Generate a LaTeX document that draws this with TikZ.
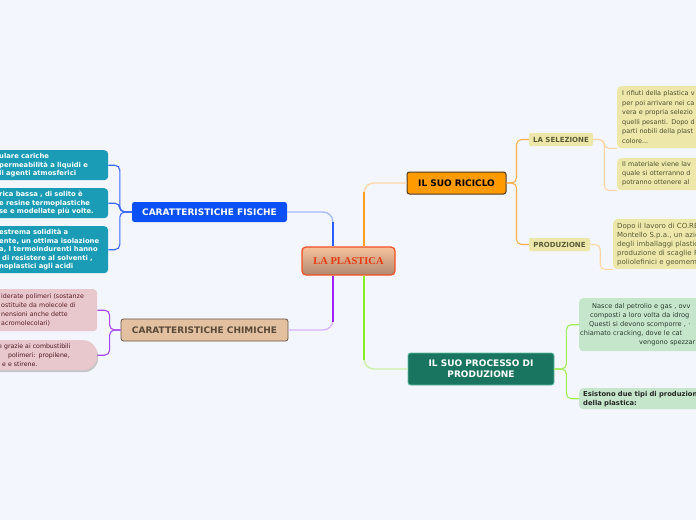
\documentclass[tikz,border=0pt]{standalone}
\usepackage{fontspec}
\setmainfont{DejaVu Sans}
\newfontfamily\rootfont{Liberation Serif}
\usetikzlibrary{shadows}
\newcommand{\myfs}[2]{\fontsize{#1}{#2}\selectfont}
\definecolor{bg}{HTML}{F3F6FD}
\definecolor{fisblue}{HTML}{0A50F5}
\definecolor{leafteal}{HTML}{1A9CB6}
\definecolor{chimtan}{HTML}{E2C0A0}
\definecolor{chimborder}{HTML}{6A5545}
\definecolor{chimtext}{HTML}{5A4A3A}
\definecolor{pinkleaf}{HTML}{E8C8CD}
\definecolor{pinktext}{HTML}{5A1E24}
\definecolor{ricorange}{HTML}{FF9A00}
\definecolor{ricborder}{HTML}{4A3A20}
\definecolor{khaki}{HTML}{EDE8AA}
\definecolor{khakitext}{HTML}{4E4E30}
\definecolor{labeltext}{HTML}{5A5A3A}
\definecolor{procteal}{HTML}{1A7560}
\definecolor{procborder}{HTML}{5FBFA0}
\definecolor{greenleaf}{HTML}{C6E6CC}
\definecolor{greentext}{HTML}{2B3A2E}
\definecolor{rootborder}{HTML}{F5501E}
\definecolor{roottext}{HTML}{E83A10}
\definecolor{roottop}{HTML}{F6C29C}
\definecolor{rootbot}{HTML}{B08870}
\definecolor{blueS}{HTML}{2A5CFF}
\definecolor{blueL}{HTML}{A6BDFA}
\definecolor{blueM}{HTML}{3A68FF}
\definecolor{orangeS}{HTML}{FF9E20}
\definecolor{orangeL}{HTML}{FFD6A6}
\definecolor{orangeM}{HTML}{FFB04A}
\definecolor{greenS}{HTML}{86EE22}
\definecolor{greenL}{HTML}{CBF0A6}
\definecolor{greenM}{HTML}{A2EC58}
\definecolor{purpleS}{HTML}{A020FF}
\definecolor{purpleL}{HTML}{D9B4F8}
\definecolor{purpleM}{HTML}{A845F0}
\tikzset{
  mainnode/.style={font=\bfseries\myfs{9}{11}, inner sep=0pt, rounded corners=2.5pt, align=center},
  leafnode/.style={anchor=north west, inner xsep=4pt, inner ysep=0pt, align=left, rounded corners=4pt},
  fisleaf/.style={leafnode, fill=leafteal, text=white, inner xsep=5pt, font=\bfseries\myfs{6.8}{8.6}, minimum width=114pt, text width=104pt},
  labelnode/.style={fill=khaki, text=labeltext, font=\bfseries\myfs{7}{8}, inner sep=0pt, rounded corners=2pt},
  conn/.style={line width=1.4pt, rounded corners=10pt},
  subconn/.style={line width=1.1pt, rounded corners=5pt}
}
\begin{document}
\begin{tikzpicture}[x=1pt,y=-1pt]
\useasboundingbox (0,0) rectangle (696,520);
\fill[bg] (0,0) rectangle (696,520);
\clip (0,0) rectangle (696,520);

% central
\node[rounded corners=4pt, draw=rootborder, line width=1.2pt, top color=roottop, bottom color=rootbot,
      minimum width=93pt, minimum height=28pt, inner sep=0pt, text=roottext,
      font=\rootfont\bfseries\myfs{10.5}{12}] (root) at (348.5,261) {LA PLASTICA};

% main topics
\node[mainnode, fill=fisblue, text=white, minimum width=155pt, minimum height=20pt] (fis) at (209.5,212) {CARATTERISTICHE FISICHE};
\node[mainnode, fill=chimtan, draw=chimborder, line width=0.8pt, text=chimtext, minimum width=167pt, minimum height=22pt] (chim) at (204.5,330) {CARATTERISTICHE CHIMICHE};
\node[mainnode, fill=ricorange, draw=ricborder, line width=1pt, text=black, minimum width=99pt, minimum height=22pt] (ric) at (456.5,183) {IL SUO RICICLO};
\node[mainnode, fill=procteal, draw=procborder, line width=0.8pt, text=white, minimum width=146pt, minimum height=32pt] (proc) at (481,369) {IL SUO PROCESSO DI\\PRODUZIONE};

% sub labels
\node[labelnode, minimum width=64pt, minimum height=13pt] (sel) at (561,139.5) {LA SELEZIONE};
\node[labelnode, minimum width=61pt, minimum height=13pt] (prod) at (559.5,244.5) {PRODUZIONE};

% left leaves (fisiche)
\node[fisleaf, minimum height=30pt] (fl1) at (-6,150)
  {ulare cariche\\permeabilità a liquidi e\\li agenti atmosferici};
\node[fisleaf, minimum height=30pt] (fl2) at (-6,188)
  {rica bassa , di solito è\\e resine termoplastiche\\se e modellate più volte.};
\node[fisleaf, minimum height=47pt] (fl3) at (-6,226)
  {estrema solidità a\\ente, un ottima isolazione\\a, I termoindurenti hanno\\\hspace*{3pt}di resistere al solventi ,\\noplastici agli acidi};

% left leaves (chimiche)
\node[leafnode, fill=pinkleaf, text=pinktext, inner xsep=7pt, font=\myfs{6.3}{9}, minimum width=103pt, text width=89pt, minimum height=42pt] (cl1) at (-6,289)
  {iderate polimeri (sostanze\\ostituite da molecole di\\nensioni anche dette\\acromolecolari)};
\node[leafnode, fill=pinkleaf, text=pinktext!80!black, rounded corners=14pt, font=\myfs{6.2}{9}, minimum width=127pt, text width=119pt, minimum height=30pt,
      drop shadow={shadow xshift=1pt, shadow yshift=-2pt, fill=black!35, opacity=0.6}] (cl2) at (-30,340)
  {\hspace*{24pt}e grazie ai combustibili\\\hspace*{34pt}polimeri: propilene,\\\hspace*{28pt}e e stirene.};

% right leaves (riciclo)
\node[leafnode, fill=khaki, text=khakitext, inner xsep=5pt, font=\myfs{6.5}{9.5}, minimum width=120pt, text width=110pt, minimum height=62pt] (sl1) at (617,86)
  {I rifiuti della plastica v\\per poi arrivare nei ca\\vera e propria selezio\\quelli pesanti. Dopo d\\parti nobili della plast\\colore...};
\node[leafnode, fill=khaki, text=khakitext, inner xsep=5pt, font=\myfs{6.5}{9}, minimum width=120pt, text width=110pt, minimum height=32pt] (sl2) at (617,158)
  {Il materiale viene lav\\quale si otterranno d\\potranno ottenere al};
\node[leafnode, fill=khaki, text=labeltext, font=\myfs{7}{9}, minimum width=120pt, text width=112pt, minimum height=50pt] (pl1) at (613,219)
  {Dopo il lavoro di CO.RE\\Montello S.p.a., un azie\\degli imballaggi plastic\\produzione di scaglie F\\poliolefinici e geomem};

% right leaves (processo)
\node[leafnode, fill=greenleaf, text=greentext, inner xsep=1pt, font=\myfs{6.6}{9.2}, minimum width=160pt, text width=158pt, minimum height=53pt] (gl1) at (579,298)
  {\hspace*{12pt}Nasce dal petrolio e gas , ovv\\\hspace*{10pt}composti a loro volta da idrog\\\hspace*{9pt}Questi si devono scomporre , ·\\chiamato cracking, dove le cat\\\hspace*{59pt}vengono spezzar};
\node[leafnode, fill=greenleaf, text=black!85, font=\bfseries\myfs{6.8}{9}, minimum width=160pt, text width=152pt, minimum height=21pt] (gl2) at (579,388)
  {Esistono due tipi di produzion\\della plastica:};

% main connectors
\draw[conn, blueL] ([xshift=-15.5pt]root.north) |- (fis.east);
\draw[conn, blueS] ([xshift=-15.5pt]root.north) -- ([xshift=-15.5pt,yshift=24pt]root.north);
\draw[conn, purpleL] ([xshift=-15.5pt]root.south) |- (chim.east);
\draw[conn, purpleS] ([xshift=-15.5pt]root.south) -- ([xshift=-15.5pt,yshift=-46pt]root.south);
\draw[conn, orangeL] ([xshift=15.5pt]root.north) |- (ric.west);
\draw[conn, orangeS] ([xshift=15.5pt]root.north) -- ([xshift=15.5pt,yshift=54pt]root.north);
\draw[conn, greenL] ([xshift=15.5pt]root.south) |- (proc.west);
\draw[conn, greenS] ([xshift=15.5pt]root.south) -- ([xshift=15.5pt,yshift=-84pt]root.south);

% sub connectors
\draw[subconn, blueM] (fis.west) -- ++(-12,0) |- (fl1.east);
\draw[subconn, blueM] (fis.west) -- ++(-12,0) |- (fl2.east);
\draw[subconn, blueM] (fis.west) -- ++(-12,0) |- (fl3.east);
\draw[subconn, purpleM] (chim.west) -- ++(-11,0) |- (cl1.east);
\draw[subconn, purpleM] (chim.west) -- ++(-11,0) |- (cl2.east);
\draw[subconn, orangeM] (ric.east) -- ++(10,0) |- (sel.west);
\draw[subconn, orangeM] (ric.east) -- ++(10,0) |- (prod.west);
\draw[subconn, orangeL] (sel.east) -- ++(11,0) |- (sl1.south west);
\draw[subconn, orangeL] (sel.east) -- ++(11,0) |- (sl2.south west);
\draw[subconn, orangeL] (prod.east) -- ++(10,0) |- (pl1.south west);
\draw[subconn, greenM] (proc.east) -- ++(12,0) |- (gl1.west);
\draw[subconn, greenM] (proc.east) -- ++(12,0) |- (gl2.west);
\end{tikzpicture}
\end{document}
